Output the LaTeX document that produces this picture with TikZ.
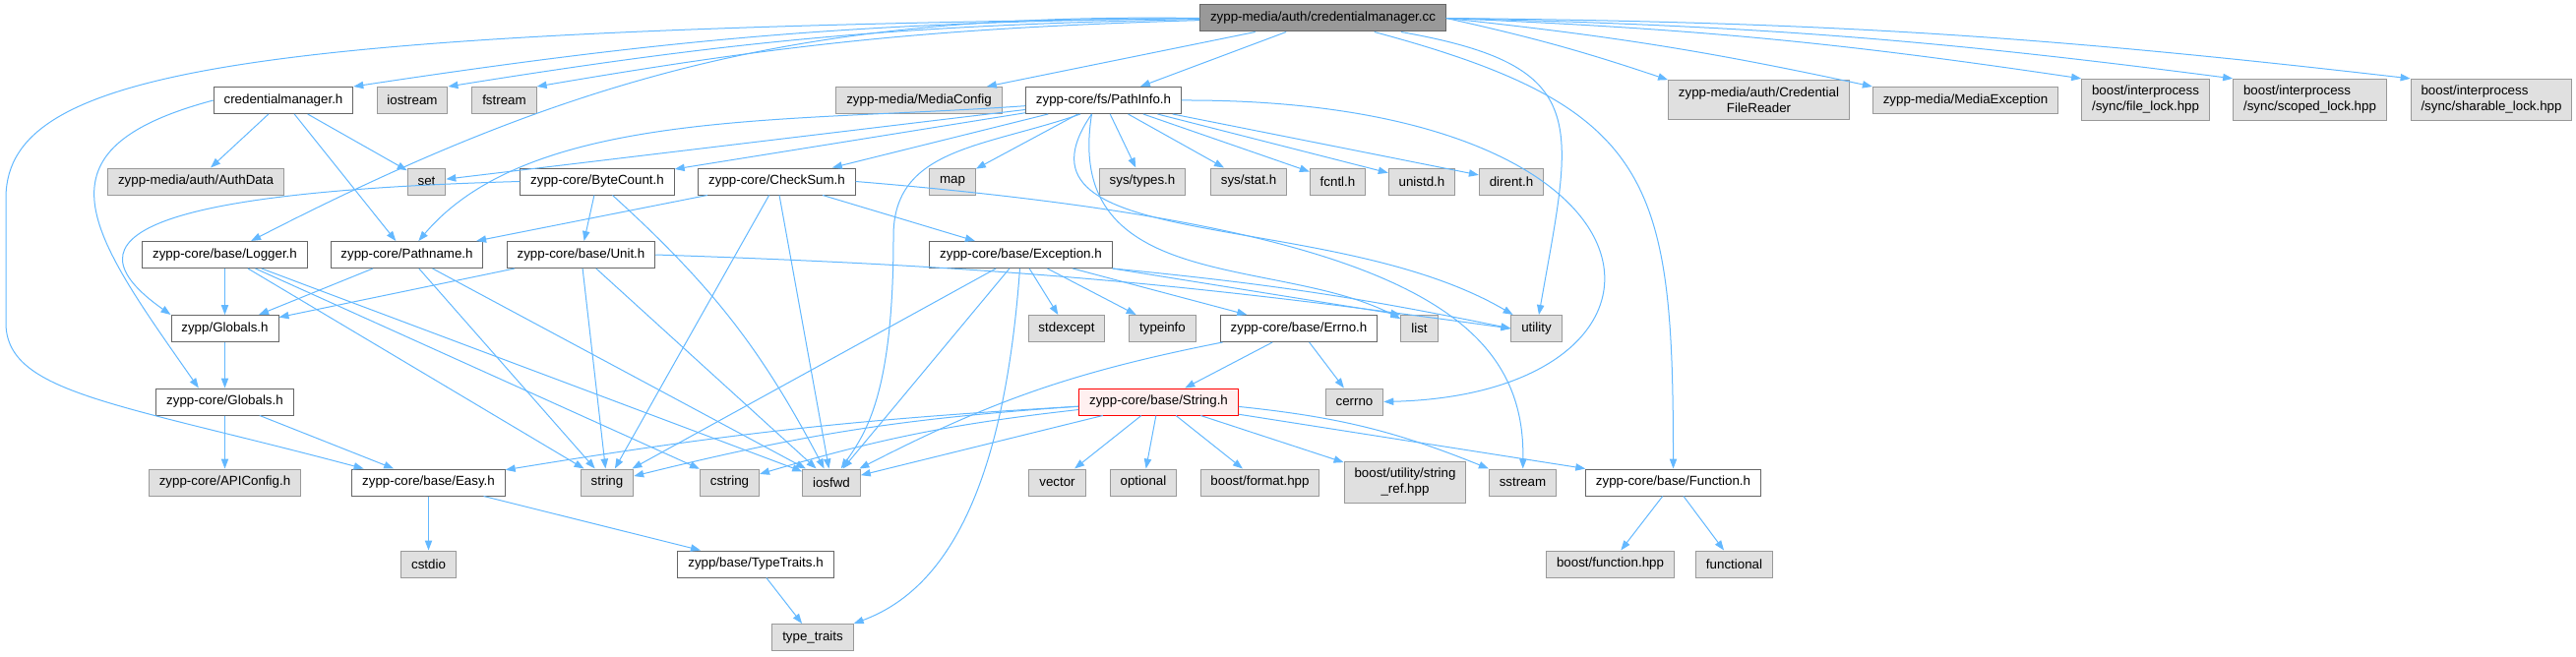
\documentclass[tikz,border=0pt]{standalone}
\usepackage{fontspec}
\setmainfont{Liberation Sans}
\usetikzlibrary{arrows.meta}

\definecolor{edgeblue}{HTML}{63B8FF}
\definecolor{extfill}{HTML}{E0E0E0}
\definecolor{extline}{HTML}{999999}
\definecolor{docline}{HTML}{666666}
\definecolor{rootfill}{HTML}{999999}
\definecolor{hlfill}{HTML}{FFF0F0}

\tikzset{
  box/.style={rectangle, draw, line width=0.75pt, minimum height=20.25pt,
    inner xsep=7.8pt, inner ysep=5.2pt, align=center,
    font=\fontsize{10}{12}\selectfont},
  rootbox/.style={box, draw=docline, fill=rootfill},
  docbox/.style={box, draw=docline, fill=white},
  extbox/.style={box, draw=extline, fill=extfill},
  hlbox/.style={box, draw=red, fill=hlfill},
  dep/.style={draw=edgeblue, line width=0.75pt},
}

\begin{document}
\begin{tikzpicture}[->, >={Triangle[length=7.5pt,width=5.5pt]}, x=0.75pt, y=-0.75pt,
    every edge/.style={dep}]
   \useasboundingbox (0,0) rectangle (2618,667);

   \node[rootbox] (cc) at (1344.5,18.5) {zypp-media/auth/credentialmanager.cc};

   \node[docbox] (cmh) at (288,102) {credentialmanager.h};
   \node[extbox] (iostream) at (419,102) {iostream};
   \node[extbox] (fstream) at (512.5,102) {fstream};
   \node[extbox] (mediacfg) at (934,102) {zypp-media/MediaConfig};
   \node[docbox] (pathinfo) at (1121.5,102) {zypp-core/fs/PathInfo.h};
   \node[extbox] (credreader) at (1787.5,101.5) {zypp-media/auth/Credential\\FileReader};
   \node[extbox] (mediaexc) at (1997.5,102) {zypp-media/MediaException};
   \node[extbox, align=left] (filelock) at (2180.5,101.5) {boost/interprocess\\/sync/file\_lock.hpp};
   \node[extbox, align=left] (scopedlock) at (2347.5,101.5) {boost/interprocess\\/sync/scoped\_lock.hpp};
   \node[extbox, align=left] (sharlock) at (2532,101.5) {boost/interprocess\\/sync/sharable\_lock.hpp};

   \node[extbox] (authdata) at (199,184.5) {zypp-media/auth/AuthData};
   \node[extbox] (set) at (433.5,184.5) {set};
   \node[docbox] (bytecount) at (607,184.5) {zypp-core/ByteCount.h};
   \node[docbox] (checksum) at (789.5,184.5) {zypp-core/CheckSum.h};
   \node[extbox] (map) at (968,184.5) {map};
   \node[extbox] (systypes) at (1161,184.5) {sys/types.h};
   \node[extbox] (sysstat) at (1269,184.5) {sys/stat.h};
   \node[extbox] (fcntl) at (1359.5,184.5) {fcntl.h};
   \node[extbox] (unistd) at (1445,184.5) {unistd.h};
   \node[extbox] (dirent) at (1536,184.5) {dirent.h};

   \node[docbox] (logger) at (228.5,259) {zypp-core/base/Logger.h};
   \node[docbox] (pathname) at (413.5,259) {zypp-core/Pathname.h};
   \node[docbox] (unit) at (590.5,259) {zypp-core/base/Unit.h};
   \node[docbox] (exception) at (1037.5,259) {zypp-core/base/Exception.h};

   \node[docbox] (zglobals) at (228.5,334) {zypp/Globals.h};
   \node[extbox] (stdexcept) at (1084,334) {stdexcept};
   \node[extbox] (typeinfo) at (1181.5,334) {typeinfo};
   \node[docbox] (errnoh) at (1320,334) {zypp-core/base/Errno.h};
   \node[extbox] (list) at (1442.5,334) {list};
   \node[extbox] (utility) at (1561.5,334) {utility};

   \node[docbox] (cglobals) at (228.5,408.5) {zypp-core/Globals.h};
   \node[hlbox] (strh) at (1177.5,408.5) {zypp-core/base/String.h};
   \node[extbox] (cerrno) at (1376.5,408.5) {cerrno};

   \node[extbox] (apiconfig) at (228.5,490.5) {zypp-core/APIConfig.h};
   \node[docbox] (easy) at (435.5,490.5) {zypp-core/base/Easy.h};
   \node[extbox] (string) at (617,490.5) {string};
   \node[extbox] (cstring) at (741.5,490.5) {cstring};
   \node[extbox] (iosfwd) at (845,490.5) {iosfwd};
   \node[extbox] (vector) at (1074.5,490.5) {vector};
   \node[extbox] (optional) at (1162,490.5) {optional};
   \node[extbox] (bformat) at (1280.5,490.5) {boost/format.hpp};
   \node[extbox] (strref) at (1428,490.5) {boost/utility/string\\\_ref.hpp};
   \node[extbox] (sstream) at (1547.5,490.5) {sstream};
   \node[docbox] (function) at (1700.5,490.5) {zypp-core/base/Function.h};

   \node[extbox] (cstdio) at (435.5,573.5) {cstdio};
   \node[docbox] (typetraits) at (768,573.5) {zypp/base/TypeTraits.h};
   \node[extbox] (bfunction) at (1636.5,573.5) {boost/function.hpp};
   \node[extbox] (functional) at (1762.5,573.5) {functional};

   \node[extbox] (typetr) at (826,648) {type\_traits};

   % credentialmanager.cc
   \path (cc) edge[bend right=4] (cmh.north east);
   \path (cc) edge[bend right=4] (iostream.north east);
   \path (cc) edge[bend right=4] (fstream.north east);
   \path (cc) edge (mediacfg);
   \path (cc) edge (pathinfo);
   \path (cc.west) edge[bend right=14] (logger);
   \path (cc) edge[out=-10, in=80, looseness=1.6] (utility);
   \path (cc) edge[out=-15, in=90, looseness=1.4] (function);
   \path (cc.east) edge[bend left=3] (credreader.north west);
   \path (cc.east) edge[bend left=3] (mediaexc.north west);
   \path (cc.east) edge[bend left=3] (filelock.north west);
   \path (cc.east) edge[bend left=3] (scopedlock.north west);
   \path (cc.east) edge[bend left=3] (sharlock.north west);
   \draw[dep] (cc.west) .. controls (250,30) and (8,70) .. (6,200) -- (6,330)
      .. controls (8,400) and (120,410) .. (easy.168);

   % credentialmanager.h
   \path (cmh) edge (authdata);
   \path (cmh) edge (set);
   \path (cmh) edge (pathname);
   \path (cmh.west) edge[out=195, in=125, looseness=1.7] ([xshift=-20pt]cglobals.north);

   % PathInfo.h
   \path (pathinfo) edge (set);
   \path (pathinfo) edge (bytecount);
   \path (pathinfo) edge (checksum);
   \path (pathinfo) edge (map);
   \path (pathinfo) edge (systypes);
   \path (pathinfo) edge (sysstat);
   \path (pathinfo) edge (fcntl);
   \path (pathinfo) edge (unistd);
   \path (pathinfo) edge (dirent);
   \draw[dep] (pathinfo) .. controls (800,125) and (540,110) .. (pathname);
   \draw[dep] ([xshift=-17.6pt]pathinfo.south) .. controls (1000,150) and (908,150) .. (908,240)
      .. controls (908,400) and (880,440) .. (iosfwd);
   \draw[dep] ([xshift=-9pt]pathinfo.south) .. controls (1080,300) and (1300,260) .. (list);
   \draw[dep] ([xshift=-9pt]pathinfo.south) .. controls (1010,260) and (1350,210) .. (utility);
   \draw[dep] (pathinfo.east) .. controls (1720,100) and (1740,400) .. (cerrno.east);

   % ByteCount.h, CheckSum.h
   \path (bytecount) edge (unit);
   \path (bytecount) edge[bend left=10] (iosfwd);
   \draw[dep] (bytecount.west) .. controls (150,195) and (60,240) .. (zglobals.north west);
   \path (checksum) edge (pathname);
   \path (checksum) edge (string);
   \path (checksum) edge (iosfwd);
   \path (checksum) edge (exception);
   \draw[dep] (checksum.east) .. controls (1420,230) and (1550,320) .. (sstream);

   % Logger.h, Pathname.h, Unit.h
   \path (logger) edge (zglobals);
   \path (logger) edge (string);
   \path (logger) edge (cstring);
   \path (logger) edge (iosfwd);
   \path (pathname) edge (zglobals);
   \path (pathname) edge (string);
   \path (pathname) edge (iosfwd);
   \path (unit) edge (zglobals);
   \path (unit) edge (string);
   \path (unit) edge (iosfwd);
   \path (unit.east) edge[bend left=3] (utility.west);

   % Exception.h
   \path (exception) edge (stdexcept);
   \path (exception) edge (typeinfo);
   \path (exception) edge (errnoh);
   \path (exception.south east) edge (list.north west);
   \path (exception.south east) edge[bend left=3] (utility.west);
   \path (exception) edge (string);
   \path (exception) edge (iosfwd);
   \draw[dep] (exception) .. controls (1020,500) and (960,600) .. (typetr.north east);

   % Errno.h, String.h
   \path (errnoh) edge (strh);
   \path (errnoh) edge (cerrno);
   \path (errnoh) edge[bend right=8] (iosfwd);
   \path (strh) edge (vector);
   \path (strh) edge (optional);
   \path (strh) edge (bformat);
   \path (strh) edge (strref);
   \path (strh) edge[bend left=8] (sstream.north west);
   \path (strh) edge (function);
   \path (strh) edge[bend right=5] (string);
   \path (strh) edge[bend right=5] (cstring);
   \path (strh) edge (iosfwd);
   \path (strh) edge[bend right=3] (easy);

   % the rest
   \path (function) edge (bfunction);
   \path (function) edge (functional);
   \path (zglobals) edge (cglobals);
   \path (cglobals) edge (apiconfig);
   \path (cglobals) edge (easy);
   \path (easy) edge (cstdio);
   \path (easy) edge (typetraits);
   \path (typetraits) edge (typetr);

\end{tikzpicture}
\end{document}
